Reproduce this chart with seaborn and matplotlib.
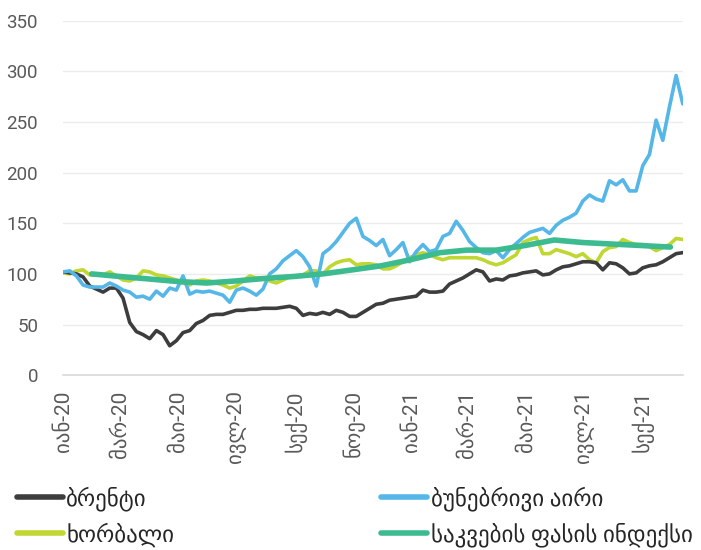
#%% Package Imports

import pandas as pd
import matplotlib as mpl
import matplotlib.pyplot as plt
import seaborn as sns
import numpy as np

#%% Data (weekly readings, index = 1 Jan 2020 = 100)

start_week = '2020-01-01'

brent = [102, 101, 100, 97, 88, 85, 82, 86, 86, 76,
         52, 43, 40, 36, 44, 40, 29, 34, 42, 44,
         51, 54, 59, 60, 60, 62, 64, 64, 65, 65,
         66, 66, 66, 67, 68, 66, 59, 61, 60, 62,
         60, 64, 62, 58, 58, 62, 66, 70, 71, 74,
         75, 76, 77, 78, 84, 82, 82, 83, 90, 93,
         96, 100, 104, 102, 93, 95, 94, 98, 99, 101,
         102, 103, 99, 100, 104, 107, 108, 110, 112, 112,
         111, 104, 111, 110, 106, 100, 101, 106, 108, 109,
         112, 116, 120, 121]

natural_gas = [102, 103, 98, 89, 87, 87, 87, 91, 88, 84,
               82, 77, 78, 75, 83, 78, 86, 84, 98, 80,
               83, 82, 83, 81, 79, 72, 84, 86, 83, 79,
               85, 100, 105, 113, 118, 123, 117, 107, 88, 120,
               125, 132, 141, 150, 155, 137, 133, 128, 134, 118,
               124, 131, 112, 122, 129, 122, 124, 137, 140, 152,
               143, 132, 126, 121, 120, 123, 116, 124, 130, 136,
               141, 143, 145, 140, 148, 153, 156, 160, 172, 178,
               174, 172, 192, 188, 193, 182, 182, 207, 218, 252,
               232, 265, 296, 268]

wheat = [101, 100, 103, 104, 99, 99, 99, 102, 98, 94,
         93, 96, 103, 102, 99, 98, 96, 94, 91, 89,
         93, 94, 93, 91, 89, 86, 88, 93, 98, 96,
         96, 93, 91, 94, 97, 98, 99, 103, 103, 100,
         107, 111, 113, 114, 109, 110, 110, 109, 105, 105,
         108, 112, 116, 119, 121, 119, 116, 114, 116, 116,
         116, 116, 116, 114, 111, 109, 111, 115, 119, 131,
         134, 136, 120, 120, 124, 122, 120, 117, 120, 114,
         111, 122, 126, 127, 134, 131, 129, 129, 127, 123,
         126, 129, 135, 134]

# monthly food price index, plotted at month end
food_months = pd.date_range('2020-01-31', '2021-09-30', freq='ME')
food_index = [100, 97.5, 95, 92.5, 91, 93, 95.5, 97.5, 100, 104,
              108, 114, 121, 123.5, 123.5, 128, 133.5, 131, 129.5, 128,
              126.5]

tick_dates = pd.date_range('2020-01-01', '2021-09-01', freq='2MS')
tick_labels = ['იან-20', 'მარ-20', 'მაი-20', 'ივლ-20', 'სექ-20', 'ნოე-20',
               'იან-21', 'მარ-21', 'მაი-21', 'ივლ-21', 'სექ-21']

labels = {'brent': 'ბრენტი',
          'gas': 'ბუნებრივი აირი',
          'wheat': 'ხორბალი',
          'food': 'საკვების ფასის ინდექსი'}

#%% Build frames

weeks = pd.date_range(start_week, periods=len(brent), freq='7D')
weekly = pd.DataFrame({'date': weeks, 'brent': brent,
                       'gas': natural_gas, 'wheat': wheat})
food = pd.DataFrame({'date': food_months, 'food': food_index})

#%% Plot

sns.set_style('white')
plt.rcParams['font.family'] = ['Roboto', 'DejaVu Sans']

grey_text = '#595959'
fig = plt.figure(figsize=(7.01, 5.5), dpi=100)
ax = fig.add_axes([0.09, 0.318, 0.884, 0.644])

sns.lineplot(x='date', y='brent', data=weekly, ax=ax, color='#3d3d3d',
             lw=2.6, label=labels['brent'])
sns.lineplot(x='date', y='wheat', data=weekly, ax=ax, color='#bfd730',
             lw=2.6, label=labels['wheat'])
sns.lineplot(x='date', y='gas', data=weekly, ax=ax, color='#55b7e8',
             lw=2.6, label=labels['gas'])
sns.lineplot(x='date', y='food', data=food, ax=ax, color='#3bbb8f',
             lw=4, label=labels['food'])

# keep wheat/food/gas/brent stacking roughly as in the source
for line, z in zip(ax.get_lines(), [3, 2, 4, 5]):
    line.set_zorder(z)

ax.set_ylim(0, 350)
ax.set_yticks(np.arange(0, 351, 50))
ax.set_xlim(pd.Timestamp('2020-01-01'), pd.Timestamp('2021-10-13'))
ax.set_xticks(tick_dates)
ax.set_xticklabels(tick_labels, rotation=90)
ax.set_xlabel('')
ax.set_ylabel('')

ax.grid(True, axis='y', color='#ececec', lw=1)
ax.set_axisbelow(True)
for s in ['left', 'right', 'top']:
    ax.spines[s].set_visible(False)
ax.spines['bottom'].set_color('#d9d9d9')
ax.spines['bottom'].set_linewidth(1.2)
ax.tick_params(axis='x', length=7, width=1.2, color='#d9d9d9',
               labelsize=15, labelcolor=grey_text, pad=4)
ax.tick_params(axis='y', length=0, labelsize=13.5, labelcolor=grey_text, pad=18)

handles, labs = ax.get_legend_handles_labels()
ax.get_legend().remove()
leg = fig.legend(handles, labs, loc='upper left', bbox_to_anchor=(0.024, 0.116),
                 ncol=2, frameon=False, fontsize=16.5, handlelength=2.0,
                 handletextpad=0.15, columnspacing=9.05, labelspacing=0.5,
                 borderaxespad=0, borderpad=0)
for t in leg.get_texts():
    t.set_color('#262626')
for h in leg.legend_handles:
    h.set_linewidth(4)

fig.savefig('out.png', dpi=100)
